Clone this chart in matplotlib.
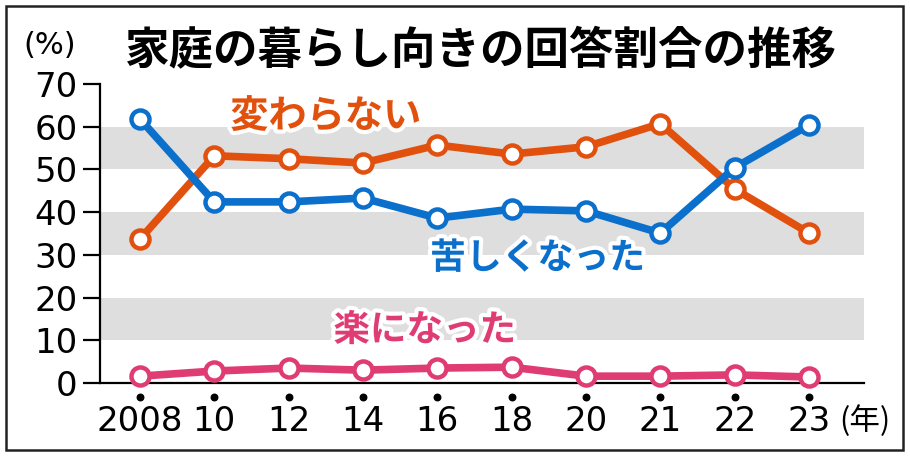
import matplotlib
matplotlib.use('Agg')
import matplotlib.pyplot as plt
import matplotlib.patheffects as pe
from matplotlib.patches import Rectangle
import numpy as np

plt.rcParams['font.family'] = ['Noto Sans CJK JP', 'DejaVu Sans']

years = ['2008', '10', '12', '14', '16', '18', '20', '21', '22', '23']
kurushiku = [61.8, 42.4, 42.4, 43.3, 38.6, 40.7, 40.3, 35.1, 50.4, 60.4]
kawaranai = [33.7, 53.2, 52.5, 51.5, 55.7, 53.6, 55.3, 60.7, 45.4, 35.1]
raku = [1.6, 2.8, 3.5, 3.0, 3.5, 3.7, 1.6, 1.6, 1.9, 1.4]
yticks = [0, 10, 20, 30, 40, 50, 60, 70]

BLUE = '#0b6fcc'
ORANGE = '#e2500e'
PINK = '#e03c74'

fig = plt.figure(figsize=(9.1, 4.57), dpi=100)
ax = fig.add_axes([100/910, 1-383/457, 764/910, 299/457])

x = np.arange(len(years))
for lo in (10, 30, 50):
    ax.axhspan(lo, lo + 10, color='#dedede', lw=0, zorder=0)

for vals, col in ((kawaranai, ORANGE), (kurushiku, BLUE), (raku, PINK)):
    ax.plot(x, vals, color=col, lw=5.5, marker='o', ms=13, mfc='white',
            mec=col, mew=3.2, zorder=3, clip_on=False)

ax.set_xlim(-0.538, 9.74)
ax.set_ylim(0, 70)
ax.set_yticks(yticks)
ax.set_yticklabels([str(v) for v in yticks], fontsize=24.5, family='DejaVu Sans')
ax.set_xticks(x)
ax.set_xticklabels(years, fontsize=24.5, family='DejaVu Sans')
ax.tick_params(axis='y', length=12, width=1.6, pad=4)
ax.tick_params(axis='x', length=0, pad=16)
for s in ('top', 'right'):
    ax.spines[s].set_visible(False)
ax.spines['left'].set_linewidth(1.6)
ax.spines['bottom'].set_linewidth(1.6)

# small dots under each year
ax.scatter(x, [-0.047] * len(x), s=22, color='black',
           transform=ax.get_xaxis_transform(), clip_on=False)

halo = [pe.withStroke(linewidth=6, foreground='white')]
ax.text(2.5, 62.5, '変わらない', color=ORANGE, fontsize=27.5, fontweight='bold',
        ha='center', va='center', path_effects=halo, zorder=4)
ax.text(5.35, 29.2, '苦しくなった', color=BLUE, fontsize=25.8, fontweight='bold',
        ha='center', va='center', path_effects=halo, zorder=4)
ax.text(3.83, 12.3, '楽になった', color=PINK, fontsize=26.3, fontweight='bold',
        ha='center', va='center', path_effects=halo, zorder=4)

fig.text(481/910, 1-51/457, '家庭の暮らし向きの回答割合の推移', fontsize=32,
         fontweight='bold', ha='center', va='center')
fig.text(50/910, 1-46/457, '(%)', fontsize=22, ha='center', va='center',
         family='DejaVu Sans')
fig.text(865/910, 1-421/457, '(年)', fontsize=22, ha='center', va='center')

fig.patches.append(Rectangle((6/910, 1-450/457), 897/910, 444/457,
                             transform=fig.transFigure, fill=False,
                             ec='#222222', lw=1.8))

fig.savefig('out.png', dpi=100)
